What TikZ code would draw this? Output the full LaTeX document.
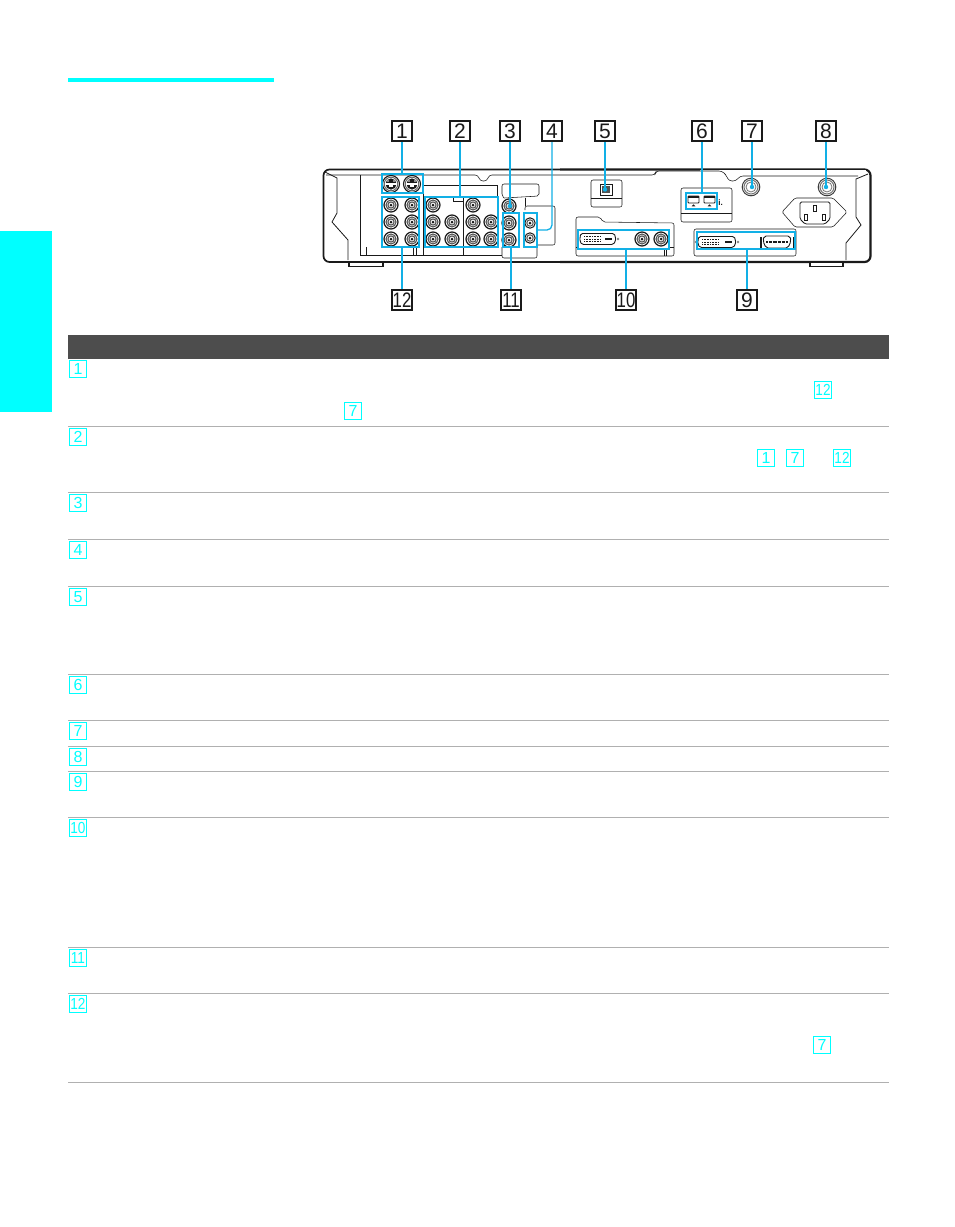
\documentclass[tikz,border=0pt]{standalone}
\usepackage{fontspec}
\usepackage{graphicx}
\setmainfont{Liberation Sans}
\definecolor{callout}{HTML}{12B0E6}
\definecolor{headcyan}{HTML}{00FFFF}
\definecolor{tablehead}{HTML}{4D4D4D}
\definecolor{rowrule}{HTML}{B0B0B0}
\definecolor{ink}{HTML}{1A1A1A}
\tikzset{
  calllabel/.style={draw=ink,line width=1.1pt,minimum width=20pt,minimum height=20pt,inner sep=0pt,font=\fontsize{21}{21}\selectfont,text=ink,fill=white},
  rowkey/.style={draw=headcyan,line width=1.1pt,minimum width=17pt,minimum height=17pt,inner sep=0pt,font=\fontsize{16}{16}\selectfont,text=headcyan,fill=white},
  leader/.style={draw=callout,line width=1.3pt},
  group/.style={draw=callout,line width=1.3pt,fill=none},
  tip/.style={fill=callout,draw=none},
  body/.style={draw=ink,line width=.55pt},
  heavy/.style={draw=ink,line width=2.2pt},
  rule/.style={draw=rowrule,line width=1pt}
}
\newcommand{\rcajack}[2]{%
  \draw[ink,line width=1.2pt] (#1,#2) circle (7);
  \draw[ink!75,line width=1.1pt] (#1,#2) circle (5);
  \draw[ink!75,line width=1.1pt] (#1,#2) circle (3.1);
  \fill[ink] (#1,#2) circle (1.5);}
\newcommand{\smalljack}[2]{%
  \draw[ink,line width=1pt] (#1,#2) circle (5.2);
  \draw[ink!75,line width=1pt] (#1,#2) circle (3.2);
  \fill[ink] (#1,#2) circle (1.5);}
\newcommand{\svideo}[2]{%
  \draw[ink,line width=1.1pt] (#1,#2) circle (8.5);
  \draw[ink!70,line width=.9pt] (#1,#2) circle (6.8);
  \fill[ink] (#1,#2) circle (5.6);
  \fill[white] (#1-5.6,#2-.9) rectangle (#1+5.6,#2+.9);
  \fill[white] (#1-2.2,#2+.9) rectangle (#1+2.2,#2+3.4);
  \foreach \dx in {-3,3}{\fill[white] (#1+\dx,#2-3) circle (.8);}}
\newcommand{\dvi}[3]{% x0 x1 ymid
  \draw[ink,line width=.9pt,rounded corners=1.5pt] (#1,#3-5.5) -- (#2,#3-5.5) -- (#2+1.5,#3-2.5) -- (#2+1.5,#3+2.5) -- (#2-1,#3+5.5) -- (#1+1,#3+5.5) -- (#1-1,#3+2.5) -- (#1-1,#3-2.5) -- cycle;
  \foreach \r in {-2.6,0,2.6}{\draw[ink,line width=1pt,dash pattern=on 1pt off .6pt] (#1+3,#3+\r) -- (#1+20,#3+\r);}
  \fill[ink] (#2-9,#3-.9) rectangle (#2-2,#3+.9);
  \draw[ink!60,line width=.4pt] (#1-3,#3) circle (1);
  \draw[ink!60,line width=.4pt] (#2+4,#3) circle (1);}
\begin{document}
\begin{tikzpicture}[x=1pt,y=-1pt]
\useasboundingbox (0,0) rectangle (954,1227);
\fill[white] (0,0) rectangle (954,1227);
% page furniture
\fill[headcyan] (68,78) rectangle (274,82);
\fill[headcyan] (0,231) rectangle (52,412);
% chassis outline
\draw[ink,line width=1.7pt,rounded corners=6pt] (560,169.5) -- (323.5,169.5) -- (323.5,262) -- (560,262);
\draw[heavy,rounded corners=6pt] (560,262) -- (870.5,262) -- (870.5,169.5) -- (560,169.5);
\draw[white,line width=.6pt] (700,169.9) -- (866,169.9);
\draw[body,rounded corners=3pt] (326,175) -- (478,175) -- (480,181) -- (487,181) -- (489,175) -- (655,175) -- (656,171) -- (722,171) -- (726,175) -- (729,181) -- (736,181) -- (740,176) -- (858,176);
\draw[body,line width=.8pt] (325,172) -- (337,178) -- (337,213) -- (332,222) -- (348,240) -- (348,260);
\draw[body,line width=.8pt] (868,174) -- (856,179) -- (856,217) -- (861,225) -- (846,243) -- (846,260);
% feet
\draw[ink,line width=1.2pt,fill=white] (349,263) -- (349,266.5) -- (383,266.5) -- (383,263);
\draw[ink,line width=1.2pt,fill=white] (810,263) -- (810,266.5) -- (843,266.5) -- (843,263);
% rear panels
\draw[body] (360,175) -- (360,255) -- (502,255);
\draw[body] (423,193) -- (423,255);
\draw[body] (423,185) -- (497,185) -- (497,196);
\draw[body] (463,197) -- (463,255);
\draw[body] (453,197) -- (453,201) -- (463,201);
\draw[body] (366,247) -- (366,255);
\draw[body] (413,248) -- (413,255);
\draw[body] (416,248) -- (416,255);
\draw[body,rounded corners=2pt] (504,198) -- (502,196) -- (502,184) -- (539,184) -- (539,196) -- (504,198);
\draw[body,rounded corners=2pt] (502,247) -- (502,258) -- (537,258) -- (537,247);
\draw[body,rounded corners=2pt] (525,210) -- (525,206) -- (555,206) -- (555,245) -- (537,245);
\draw[body] (525,198) -- (525,206);
% optical panel
\draw[body,rounded corners=2pt] (591,180) rectangle (622,207);
\draw[body] (591,198) -- (622,198);
\draw[ink,line width=.8pt] (600,184) rectangle (612,195);
\fill[ink!75] (602,186) rectangle (610,193);
% port pair panel
\draw[body,rounded corners=2pt] (681,188) rectangle (732,222);
\draw[body] (681,213) -- (732,213);
\foreach \px in {688,704}{
  \draw[ink,line width=.8pt,rounded corners=.8pt] (\px,196) rectangle (\px+11,203);
  \fill[ink] (\px,196) rectangle (\px+11,198);
  \fill[ink] (\px+5.5,204.3) -- (\px+3.7,206.3) -- (\px+7.3,206.3) -- cycle;
}
\node[inner sep=0pt,font=\fontsize{8}{8}\selectfont\bfseries,text=ink] (ilink) at (720.5,203) {i.};
% RF jacks
\foreach \jx in {751,827}{
  \draw[ink!85,line width=1pt] (\jx,187) circle (8.8);
  \draw[ink!60,line width=1pt] (\jx,187) circle (7);
  \draw[ink!60,line width=.8pt] (\jx,187) circle (5);
}
% power inlet
\draw[body,rounded corners=1.5pt] (782,212) -- (795,198) -- (833,198) -- (847,212) -- (833,227) -- (795,227) -- cycle;
\draw[ink,line width=.8pt,rounded corners=1.5pt] (800,202) -- (830,202) -- (830,219) -- (825,224) -- (805,224) -- (800,219) -- cycle;
\draw[ink,line width=.9pt] (813.5,205) rectangle (816.5,211);
\draw[ink,line width=.9pt] (804.5,214) rectangle (807.5,220);
\draw[ink,line width=.9pt] (822.5,214) rectangle (825.5,220);
% video panel with callout 10
\draw[body,rounded corners=2pt] (576,231) -- (576,217) -- (600,217) -- (603,222) -- (674,223) -- (674,256) -- (576,256) -- cycle;
\draw[body] (669,247) -- (674,247);
\draw[body] (576,247) -- (578,247);
\draw[body] (664,249) -- (664,256);
\draw[body] (666.5,249) -- (666.5,256);
\dvi{581}{614}{239}
\rcajack{642}{239}
\rcajack{661}{239}
% video panel with callout 9
\draw[body,rounded corners=2pt] (694,229) rectangle (796,256);
\dvi{699}{734}{242}
\draw[ink,line width=.9pt,rounded corners=2pt] (764,236) -- (790,236) -- (791,241) -- (788,248) -- (766,248) -- (763,241) -- cycle;
\draw[ink,line width=1.6pt,dash pattern=on .8pt off .5pt] (766,242) -- (788,242);
\fill[ink] (759.5,237) rectangle (761.5,248);
\fill[ink] (792.5,237) rectangle (794.5,248);
% S video and RCA jacks
\svideo{391}{184}
\svideo{412}{184}
\foreach \jy in {205,222,239}{\rcajack{391}{\jy}\rcajack{412}{\jy}}
\foreach \jx in {433,473}{\foreach \jy in {205,222,239}{\rcajack{\jx}{\jy}}}
\foreach \jx in {452,491}{\foreach \jy in {222,239}{\rcajack{\jx}{\jy}}}
\rcajack{509}{206}
\rcajack{509}{223}
\rcajack{509}{240}
\smalljack{530}{223}
\smalljack{530}{238}
% callout group frames
\node[group,inner sep=0pt,minimum width=41pt,minimum height=19pt] (g1) at (402.5,183.5) {};
\node[group,inner sep=0pt,minimum width=37pt,minimum height=50pt] (g12) at (400.5,222) {};
\node[group,inner sep=0pt,minimum width=73pt,minimum height=50pt] (g2) at (461.5,222) {};
\node[group,inner sep=0pt,minimum width=16pt,minimum height=34pt] (g11) at (511,230) {};
\node[group,inner sep=0pt,minimum width=13pt,minimum height=34pt] (g4) at (530.5,230) {};
\node[group,inner sep=0pt,minimum width=91pt,minimum height=19pt] (g10) at (623.5,239.5) {};
\node[group,inner sep=0pt,minimum width=98pt,minimum height=17pt] (g9) at (746,240.5) {};
\node[group,inner sep=0pt,minimum width=31pt,minimum height=16pt] (g6) at (701.5,201) {};
% connector end points
\coordinate (e3) at (510,206);
\coordinate (e5) at (605,189.5);
\coordinate (e7) at (752,187);
\coordinate (e8) at (826,187);
\coordinate (a1) at (402,131);
\coordinate (a2) at (460,131);
\coordinate (a3) at (510,131);
\coordinate (a4) at (552,131);
\coordinate (a5) at (605,131);
\coordinate (a6) at (702,131);
\coordinate (a7) at (752,131);
\coordinate (a8) at (826,131);
\coordinate (a12) at (402,300);
\coordinate (a11) at (511,300);
\coordinate (a10) at (626,300);
\coordinate (a9) at (747,300);
% connectors
\draw[leader] (a1) -- (a1|-g1.north);
\draw[leader] (a2) -- (a2|-g2.north);
\draw[leader] (a3) -- (e3);
\fill[tip] (e3) circle (2.2);
\draw[leader,rounded corners=5pt] (a4) -- (a4|-g4.east) -- (g4.east);
\draw[leader] (a5) -- (e5);
\fill[tip] (e5) circle (2.2);
\draw[leader] (a6) -- (a6|-g6.north);
\draw[leader] (a7) -- (e7);
\fill[tip] (e7) circle (2.2);
\draw[leader] (a8) -- (e8);
\fill[tip] (e8) circle (2.2);
\draw[leader] (a12|-g12.south) -- (a12);
\draw[leader] (a11|-g11.south) -- (a11);
\draw[leader] (a10|-g10.south) -- (a10);
\draw[leader] (a9|-g9.south) -- (a9);
% callout labels
\node[calllabel] (l1) at (a1) {1};
\node[calllabel] (l2) at (a2) {2};
\node[calllabel] (l3) at (a3) {3};
\node[calllabel] (l4) at (a4) {4};
\node[calllabel] (l5) at (a5) {5};
\node[calllabel] (l6) at (a6) {6};
\node[calllabel] (l7) at (a7) {7};
\node[calllabel] (l8) at (a8) {8};
\node[calllabel] (l12) at (a12) {\scalebox{.8}[1]{12}};
\node[calllabel] (l11) at (a11) {\scalebox{.8}[1]{11}};
\node[calllabel] (l10) at (a10) {\scalebox{.8}[1]{10}};
\node[calllabel] (l9) at (a9) {9};
% table
\fill[tablehead] (68,335) rectangle (889,359);
\foreach \ry in {426.4,492.6,539.4,586.4,674.4,720.4,746.4,771.4,817.4,947.4,993.4,1082.4}{\draw[rule] (68,\ry) -- (889,\ry);}
\node[rowkey] (k1) at (78,369) {1};
\node[rowkey] (k2) at (78,437) {2};
\node[rowkey] (k3) at (78,503) {3};
\node[rowkey] (k4) at (78,550) {4};
\node[rowkey] (k5) at (78,597) {5};
\node[rowkey] (k6) at (78,685) {6};
\node[rowkey] (k7) at (78,731) {7};
\node[rowkey] (k8) at (78,757) {8};
\node[rowkey] (k9) at (78,782) {9};
\node[rowkey] (k10) at (78,828) {\scalebox{.85}[1]{10}};
\node[rowkey] (k11) at (78,958) {\scalebox{.85}[1]{11}};
\node[rowkey] (k12) at (78,1004) {\scalebox{.85}[1]{12}};
\node[rowkey] (ra) at (823,390) {\scalebox{.85}[1]{12}};
\node[rowkey] (rb) at (353,411) {7};
\node[rowkey] (rc) at (766,458) {1};
\node[rowkey] (rd) at (795,458) {7};
\node[rowkey] (re) at (842,458) {\scalebox{.85}[1]{12}};
\node[rowkey] (rf) at (822,1045) {7};
\end{tikzpicture}
\end{document}
